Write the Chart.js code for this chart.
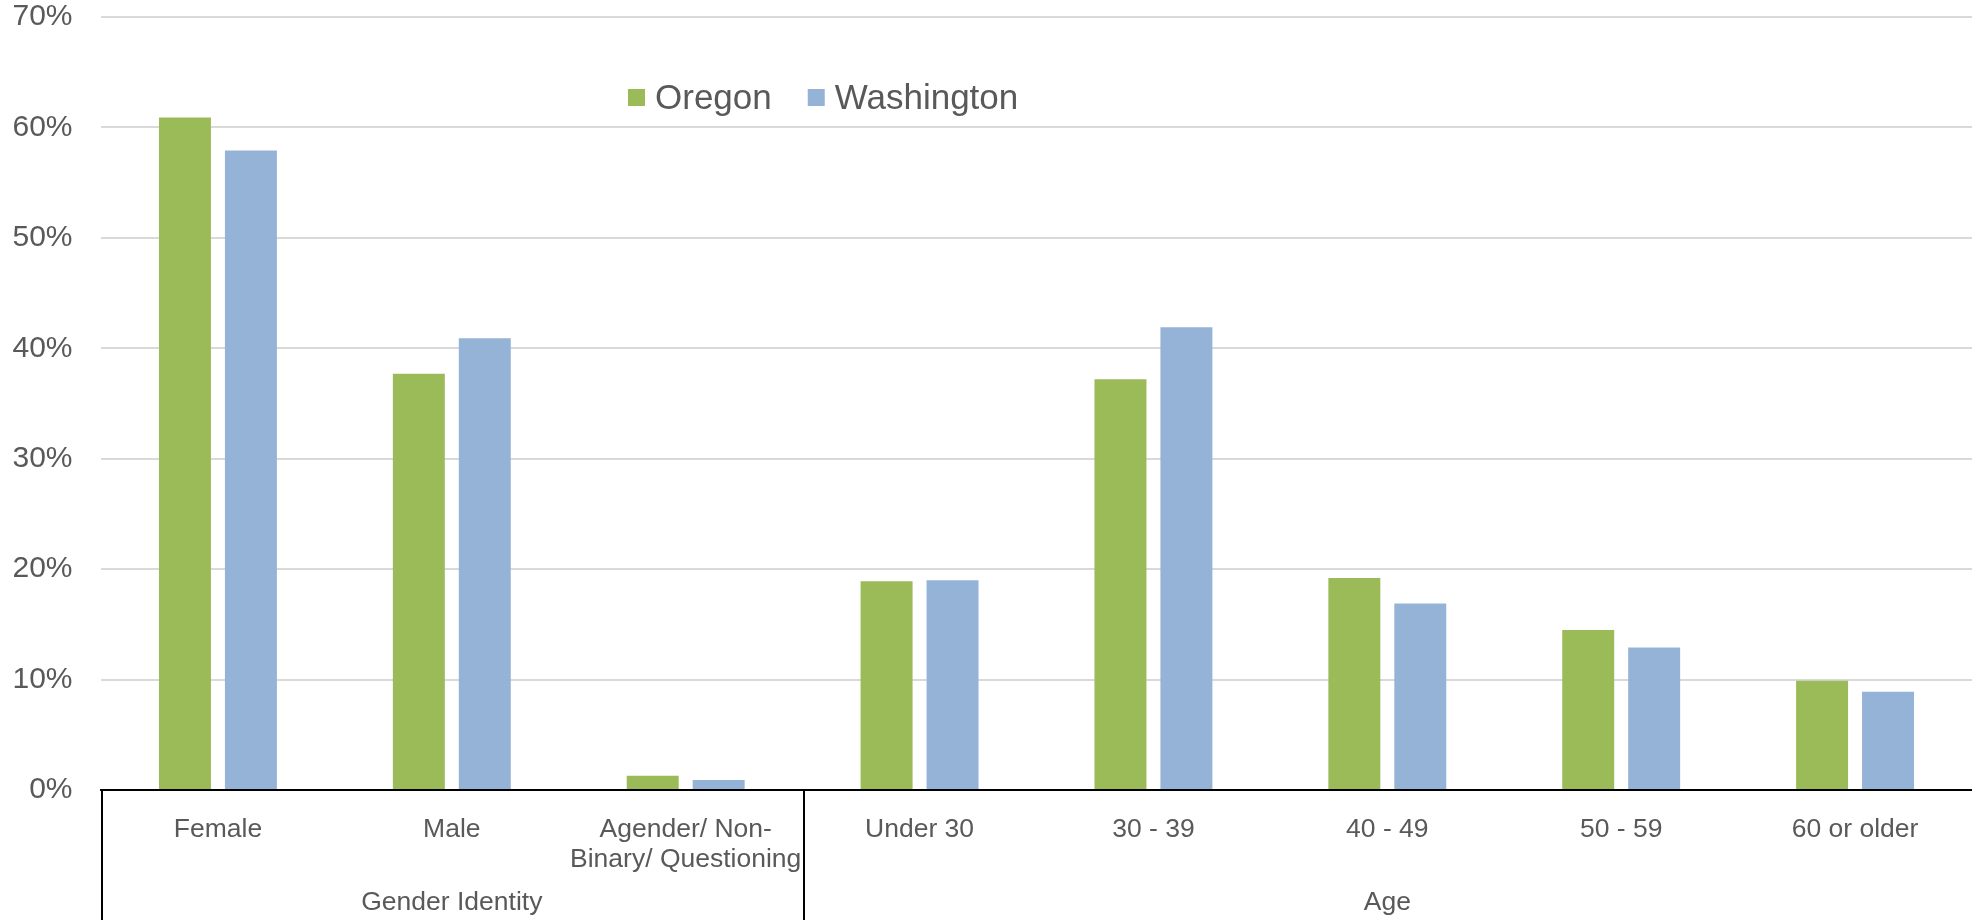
<!DOCTYPE html>
<html>
<head>
<meta charset="utf-8">
<script src="https://cdn.jsdelivr.net/npm/chart.js@4.4.1/dist/chart.umd.min.js"></script>
<style>
  html, body { margin: 0; padding: 0; background: #fff; }
  #wrap { width: 1972px; height: 920px; }
</style>
</head>
<body>
<div id="wrap"><canvas id="chart" width="1972" height="920"></canvas></div>
<script>
// chart data
const categories = ["Female", "Male", ["Agender/ Non-", "Binary/ Questioning"], "Under 30", "30 - 39", "40 - 49", "50 - 59", "60 or older"];
const groupLabels = ["Gender Identity", "Age"];
const groupSizes = [3, 5];
const oregon = [60.9, 37.7, 1.3, 18.9, 37.2, 19.2, 14.5, 9.9];
const washington = [57.9, 40.9, 0.9, 19.0, 41.9, 16.9, 12.9, 8.9];
const yTicks = [0, 10, 20, 30, 40, 50, 60, 70];

const FONT = "'Liberation Sans', Arial, sans-serif";
const TEXT = "#595959";

// group labels, separators and the floating legend
const extras = {
  id: "extras",
  afterDraw(chart) {
    const ctx = chart.ctx;
    const xs = chart.scales.x;
    const step = xs.getPixelForValue(1) - xs.getPixelForValue(0);
    ctx.save();
    ctx.strokeStyle = "#000";
    ctx.lineWidth = 2;
    ctx.fillStyle = TEXT;
    ctx.font = "26.5px " + FONT;
    ctx.textAlign = "center";
    ctx.textBaseline = "alphabetic";
    let start = 0;
    groupSizes.forEach((n, i) => {
      const left = xs.getPixelForValue(start) - step / 2;
      const right = xs.getPixelForValue(start + n - 1) + step / 2;
      ctx.beginPath();
      ctx.moveTo(Math.round(left) + 1, xs.top);
      ctx.lineTo(Math.round(left) + 1, chart.height);
      ctx.stroke();
      ctx.fillText(groupLabels[i], (left + right) / 2, 910);
      start += n;
    });

    // legend
    ctx.font = "35px " + FONT;
    ctx.textAlign = "left";
    let x = 628;
    chart.data.datasets.forEach(ds => {
      ctx.fillStyle = ds.backgroundColor;
      ctx.fillRect(x, 89, 17, 17);
      ctx.fillStyle = TEXT;
      ctx.fillText(ds.label, x + 27, 109);
      x += 27 + ctx.measureText(ds.label).width + 36;
    });
    ctx.restore();
  }
};

new Chart(document.getElementById("chart"), {
  type: "bar",
  data: {
    labels: categories,
    datasets: [
      { label: "Oregon", data: oregon, backgroundColor: "#9BBB59" },
      { label: "Washington", data: washington, backgroundColor: "#95B3D7" }
    ]
  },
  options: {
    responsive: false,
    devicePixelRatio: 1,
    animation: false,
    categoryPercentage: 0.564,
    barPercentage: 0.788,
    layout: { padding: { top: 17, right: 0, bottom: 0, left: 0 } },
    plugins: {
      legend: { display: false },
      tooltip: { enabled: false }
    },
    scales: {
      x: {
        grid: { display: false },
        border: { display: true, color: "#000", width: 2 },
        ticks: {
          color: TEXT,
          font: { family: FONT, size: 26.5, lineHeight: 1.13 },
          padding: 17,
          maxRotation: 0,
          autoSkip: false
        },
        afterFit(scale) { scale.height = 130; }
      },
      y: {
        min: yTicks[0],
        max: yTicks[yTicks.length - 1],
        grid: { color: "#D9D9D9", lineWidth: 2, drawTicks: false },
        border: { display: false },
        ticks: {
          stepSize: yTicks[1] - yTicks[0],
          color: TEXT,
          font: { family: FONT, size: 30 },
          padding: 28.5,
          callback: v => v + "%"
        },
        afterFit(scale) {
          scale.width = 101;
          scale.paddingTop = 0;
          scale.paddingBottom = 0;
        }
      }
    }
  },
  plugins: [extras]
});
</script>
</body>
</html>
